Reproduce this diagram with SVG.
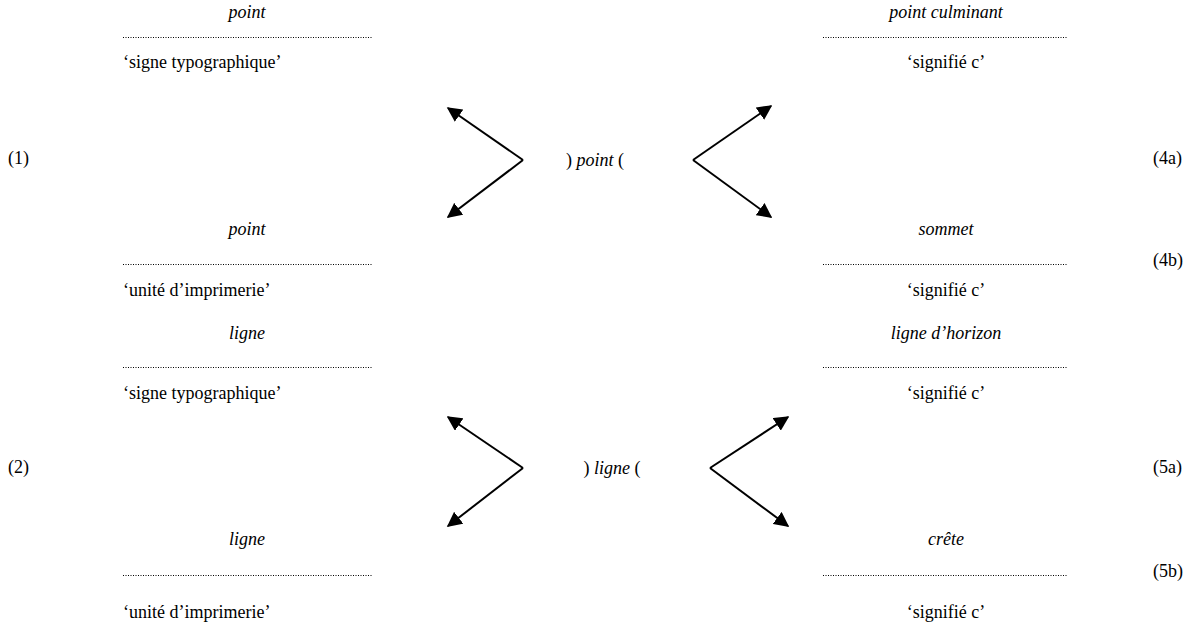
<svg xmlns="http://www.w3.org/2000/svg" width="1192" height="633" viewBox="0 0 1192 633">
<style>
text{font-family:"Liberation Serif","Times New Roman",serif;font-size:18px;fill:#000}
.i{font-style:italic}
.c{text-anchor:middle}
.dot{stroke:#000;stroke-width:1;stroke-dasharray:1 1.5;fill:none}
.arr{stroke:#000;stroke-width:2;fill:none;marker-end:url(#ah)}
</style>
<defs>
<marker id="ah" viewBox="0 0 10 10" refX="9" refY="5" markerWidth="7.5" markerHeight="7.5" markerUnits="strokeWidth" orient="auto">
<path d="M0,0 L10,5 L0,10 z" fill="#000"/>
</marker>
</defs>
<rect width="1192" height="633" fill="#fff"/>
<g id="n-point-typo">
<text class="i c" x="247" y="18">point</text>
<line class="dot" x1="123" y1="37.5" x2="372" y2="37.5"/>
<text x="123" y="68">‘signe typographique’</text>
</g>
<g id="n-point-imp">
<text class="i c" x="247" y="235">point</text>
<line class="dot" x1="123" y1="264.5" x2="372" y2="264.5"/>
<text x="123" y="296">‘unité d’imprimerie’</text>
</g>
<g id="n-ligne-typo">
<text class="i c" x="247" y="339">ligne</text>
<line class="dot" x1="123" y1="367.5" x2="372" y2="367.5"/>
<text x="123" y="399">‘signe typographique’</text>
</g>
<g id="n-ligne-imp">
<text class="i c" x="247" y="545">ligne</text>
<line class="dot" x1="123" y1="575.5" x2="372" y2="575.5"/>
<text x="123" y="618">‘unité d’imprimerie’</text>
</g>
<g id="n-point-culm">
<text class="i c" x="946" y="18">point culminant</text>
<line class="dot" x1="823" y1="37.5" x2="1068" y2="37.5"/>
<text class="c" x="946" y="68">‘signifié c’</text>
</g>
<g id="n-sommet">
<text class="i c" x="946" y="235">sommet</text>
<line class="dot" x1="823" y1="264.5" x2="1068" y2="264.5"/>
<text class="c" x="946" y="296">‘signifié c’</text>
</g>
<g id="n-horizon">
<text class="i c" x="946" y="339">ligne d’horizon</text>
<line class="dot" x1="823" y1="367.5" x2="1068" y2="367.5"/>
<text class="c" x="946" y="399">‘signifié c’</text>
</g>
<g id="n-crete">
<text class="i c" x="946" y="545">crête</text>
<line class="dot" x1="823" y1="575.5" x2="1068" y2="575.5"/>
<text class="c" x="946" y="618">‘signifié c’</text>
</g>
<g id="n-center-point">
<text class="c" x="595" y="166">) <tspan class="i">point</tspan> (</text>
</g>
<g id="n-center-ligne">
<text class="c" x="612" y="474">) <tspan class="i">ligne</tspan> (</text>
</g>
<g id="labels">
<text x="8" y="164">(1)</text>
<text x="8" y="473">(2)</text>
<text x="1153" y="164">(4a)</text>
<text x="1153" y="266">(4b)</text>
<text x="1153" y="473">(5a)</text>
<text x="1153" y="577">(5b)</text>
</g>
<g id="connectors">
<polyline class="arr" points="523,160 448,108"/>
<polyline class="arr" points="523,160 448,217"/>
<polyline class="arr" points="693,160 771,106"/>
<polyline class="arr" points="693,160 771,217"/>
<polyline class="arr" points="523,468 448,417"/>
<polyline class="arr" points="523,468 448,526"/>
<polyline class="arr" points="710,468 788,417"/>
<polyline class="arr" points="710,468 788,526"/>
</g>
</svg>
